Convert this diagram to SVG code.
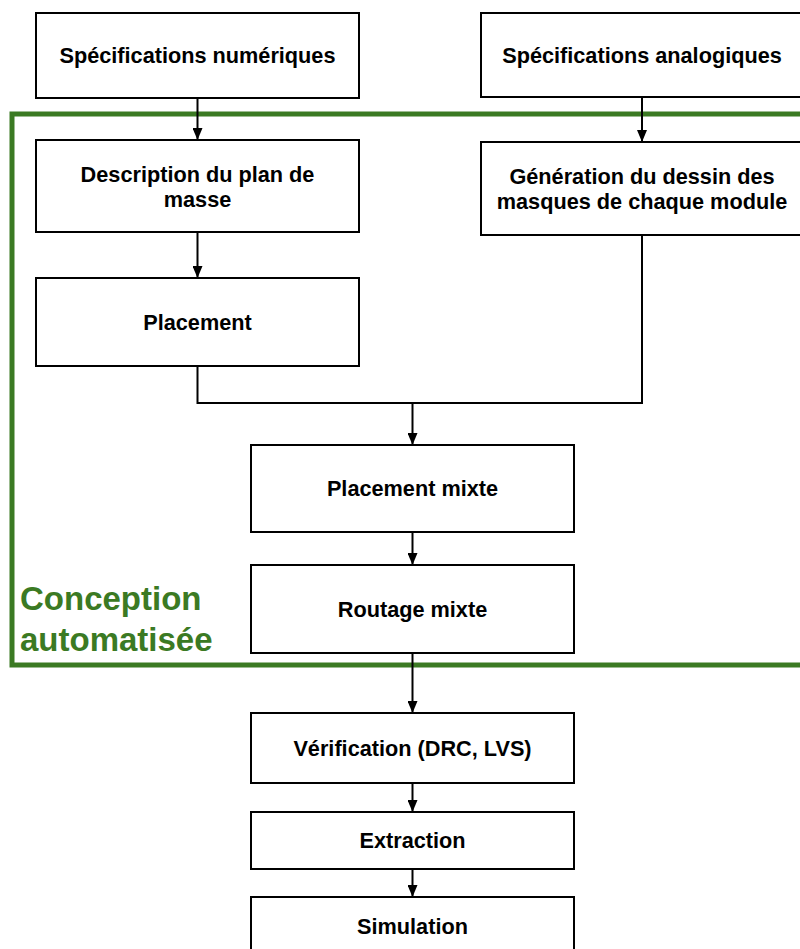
<svg xmlns="http://www.w3.org/2000/svg" width="800" height="949" viewBox="0 0 800 949">
<style>
.box{fill:#fff;stroke:#000;stroke-width:2}
.lbl{font-family:"Liberation Sans",Arial,sans-serif;font-weight:bold;font-size:21.7px;fill:#000;text-anchor:middle}
.grp{font-family:"Liberation Sans",Arial,sans-serif;font-weight:bold;font-size:33px;fill:#3b7a23}
.con{fill:none;stroke:#000;stroke-width:2}
</style>
<defs>
<marker id="arr" markerUnits="userSpaceOnUse" viewBox="0 0 12 10" refX="12" refY="5" markerWidth="12" markerHeight="10" orient="auto">
<path d="M0,0 L12,5 L0,10 Z" fill="#000"/>
</marker>
</defs>
<rect width="800" height="949" fill="#fff"/>
<g id="group-conception">
<rect x="12" y="114" width="800" height="551" fill="none" stroke="#3b7a23" stroke-width="5"/>
<text class="grp" x="20" y="610">Conception</text>
<text class="grp" x="20" y="651">automatisée</text>
</g>
<g id="n-spec-num"><rect class="box" x="36" y="13" width="323" height="85"/><text class="lbl" x="197.5" y="63">Spécifications numériques</text></g>
<g id="n-spec-ana"><rect class="box" x="481" y="13" width="323" height="84"/><text class="lbl" x="642" y="63">Spécifications analogiques</text></g>
<g id="n-desc"><rect class="box" x="36" y="140" width="323" height="92"/><text class="lbl" x="197.5" y="182">Description du plan de</text><text class="lbl" x="197.5" y="207">masse</text></g>
<g id="n-gen"><rect class="box" x="481" y="142" width="323" height="93"/><text class="lbl" x="642" y="184">Génération du dessin des</text><text class="lbl" x="642" y="209">masques de chaque module</text></g>
<g id="n-placement"><rect class="box" x="36" y="278" width="323" height="88"/><text class="lbl" x="197.5" y="330">Placement</text></g>
<g id="n-placement-mixte"><rect class="box" x="251" y="445" width="323" height="87"/><text class="lbl" x="412.5" y="496">Placement mixte</text></g>
<g id="n-routage"><rect class="box" x="251" y="565" width="323" height="88"/><text class="lbl" x="412.5" y="617">Routage mixte</text></g>
<g id="n-verif"><rect class="box" x="251" y="713" width="323" height="70"/><text class="lbl" x="412.5" y="756">Vérification (DRC, LVS)</text></g>
<g id="n-extraction"><rect class="box" x="251" y="812" width="323" height="57"/><text class="lbl" x="412.5" y="848">Extraction</text></g>
<g id="n-simulation"><rect class="box" x="251" y="897" width="323" height="60"/><text class="lbl" x="412.5" y="934">Simulation</text></g>
<g id="connectors">
<path class="con" d="M197.5,98 V140" marker-end="url(#arr)"/>
<path class="con" d="M642,97 V142" marker-end="url(#arr)"/>
<path class="con" d="M197.5,232 V278" marker-end="url(#arr)"/>
<path class="con" d="M197.5,366 V403 H642 V235"/>
<path class="con" d="M412.5,403 V445" marker-end="url(#arr)"/>
<path class="con" d="M412.5,532 V565" marker-end="url(#arr)"/>
<path class="con" d="M412.5,653 V713" marker-end="url(#arr)"/>
<path class="con" d="M412.5,783 V812" marker-end="url(#arr)"/>
<path class="con" d="M412.5,869 V897" marker-end="url(#arr)"/>
</g>
</svg>
